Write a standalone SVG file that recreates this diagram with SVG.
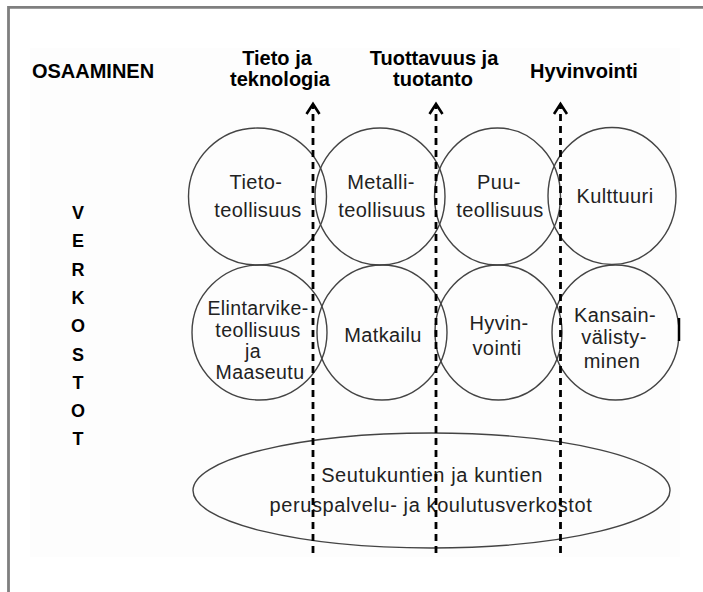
<svg xmlns="http://www.w3.org/2000/svg" width="703" height="592" viewBox="0 0 703 592">
<style>
.h{font-family:"Liberation Sans",Arial,sans-serif;font-weight:bold;font-size:20px;fill:#000;text-anchor:middle}
.v{font-family:"Liberation Sans",Arial,sans-serif;font-weight:bold;font-size:18px;fill:#000;text-anchor:middle}
.t{font-family:"Liberation Sans",Arial,sans-serif;font-size:20px;fill:#222;text-anchor:middle;letter-spacing:0.4px}
.s{font-size:19.5px}
.c{fill:none;stroke:#444;stroke-width:1.4}
.d{fill:none;stroke:#000;stroke-width:2.8;stroke-dasharray:7 5}
.a{fill:none;stroke:#000;stroke-width:2.6;stroke-linejoin:miter}
</style>
<rect width="703" height="592" fill="#fff"/>
<rect x="30" y="48" width="650" height="509" fill="#fdfdfd"/>
<path d="M8.5,592 V7.3 H703" fill="none" stroke="#7f7f7f" stroke-width="2.8"/>

<g id="osaaminen"><text class="h" x="93" y="78">OSAAMINEN</text></g>
<g id="tieto-ja-teknologia"><text class="h" x="277" y="65">Tieto ja</text><text class="h" x="280" y="86">teknologia</text></g>
<g id="tuottavuus"><text class="h" x="434" y="65">Tuottavuus ja</text><text class="h" x="433" y="86">tuotanto</text></g>
<g id="hyvinvointi-otsikko"><text class="h" x="584" y="78">Hyvinvointi</text></g>

<g id="verkostot">
<text class="v" x="78" y="219">V</text>
<text class="v" x="78" y="247.3">E</text>
<text class="v" x="78" y="275.6">R</text>
<text class="v" x="78" y="303.9">K</text>
<text class="v" x="78" y="332.2">O</text>
<text class="v" x="78" y="360.5">S</text>
<text class="v" x="78" y="388.8">T</text>
<text class="v" x="78" y="417.1">O</text>
<text class="v" x="78" y="445.4">T</text>
</g>

<g id="tietoteollisuus"><ellipse class="c" cx="257.5" cy="196.5" rx="69" ry="68.5"/><text class="t" x="256" y="189">Tieto-</text><text class="t" x="258" y="217">teollisuus</text></g>
<g id="metalliteollisuus"><ellipse class="c" cx="380" cy="196.5" rx="65" ry="68.5"/><text class="t" x="381" y="189">Metalli-</text><text class="t" x="382" y="217">teollisuus</text></g>
<g id="puuteollisuus"><ellipse class="c" cx="497.5" cy="196.5" rx="63" ry="68.5"/><text class="t" x="499" y="189">Puu-</text><text class="t" x="500" y="217">teollisuus</text></g>
<g id="kulttuuri"><ellipse class="c" cx="612" cy="196" rx="64" ry="68.5"/><text class="t" x="615" y="203">Kulttuuri</text></g>

<g id="elintarvike"><ellipse class="c" cx="259.5" cy="332.5" rx="67.5" ry="67.5"/><text class="t s" x="258" y="315">Elintarvike-</text><text class="t s" x="258" y="336.5">teollisuus</text><text class="t s" x="253" y="358">ja</text><text class="t s" x="260" y="379">Maaseutu</text></g>
<g id="matkailu"><ellipse class="c" cx="382" cy="332.5" rx="65" ry="67.5"/><text class="t" x="383" y="342">Matkailu</text></g>
<g id="hyvinvointi"><ellipse class="c" cx="498.5" cy="332.5" rx="63.5" ry="67.5"/><text class="t" x="499" y="330">Hyvin-</text><text class="t" x="497" y="355">vointi</text></g>
<g id="kansainvalistyminen"><ellipse class="c" cx="615.5" cy="332.5" rx="63.5" ry="67.5"/><path d="M679,318 V341" stroke="#000" stroke-width="2.5"/><text class="t" x="615" y="322">Kansain-</text><text class="t" x="614" y="344">välisty-</text><text class="t" x="612" y="368">minen</text></g>

<g id="verkostot-ellipsi"><ellipse class="c" cx="431.5" cy="490.5" rx="238.5" ry="57.5"/><text class="t" x="432" y="482" style="letter-spacing:0.6px">Seutukuntien ja kuntien</text><text class="t" x="431" y="512" style="letter-spacing:0.6px">peruspalvelu- ja koulutusverkostot</text></g>

<g id="connectors">
<line class="d" x1="313" y1="553" x2="313" y2="106"/>
<path class="a" d="M306.5,114 L313,104 L319.5,114"/>
<line class="d" x1="436" y1="553" x2="436" y2="106"/>
<path class="a" d="M429.5,114 L436,104 L442.5,114"/>
<line class="d" x1="560.5" y1="553" x2="560.5" y2="106"/>
<path class="a" d="M554,114 L560.5,104 L567,114"/>
</g>
</svg>
